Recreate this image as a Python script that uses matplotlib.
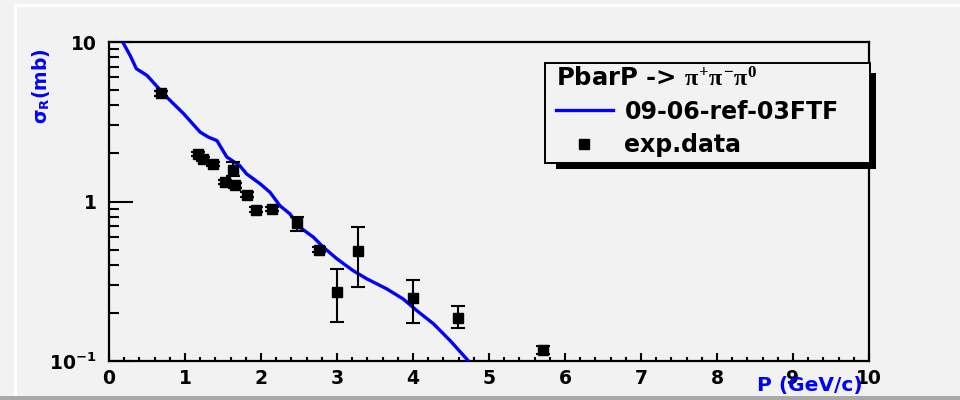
import matplotlib
matplotlib.use('Agg')
import matplotlib.pyplot as plt
from matplotlib.patches import Rectangle
from matplotlib.ticker import LogLocator, NullFormatter, MultipleLocator
import numpy as np

plt.rcParams['font.family'] = ['DejaVu Sans']
plt.rcParams['font.weight'] = 'bold'
plt.rcParams['mathtext.fontset'] = 'custom'
plt.rcParams['mathtext.rm'] = 'Liberation Serif'
plt.rcParams['mathtext.it'] = 'Liberation Serif'
plt.rcParams['mathtext.bf'] = 'Liberation Serif:bold'

# FTF model curve
p_model = [0.19, 0.28, 0.36, 0.50, 0.58, 0.76, 0.98, 1.20, 1.31, 1.42, 1.55, 1.72,
           1.81, 1.99, 2.12, 2.25, 2.38, 2.51, 2.69, 2.82, 3.00, 3.21, 3.39, 3.65,
           3.87, 4.05, 4.27, 4.49, 4.73]
sig_model = [9.8, 8.2, 6.8, 6.17, 5.6, 4.51, 3.56, 2.72, 2.53, 2.41, 1.90, 1.68,
             1.49, 1.29, 1.14, 0.94, 0.837, 0.69, 0.597, 0.517, 0.437, 0.369, 0.328, 0.284,
             0.245, 0.207, 0.171, 0.134, 0.100]

# measurements
p_exp = [0.68, 1.17, 1.24, 1.37, 1.52, 1.63, 1.66, 1.81, 1.93, 2.14, 2.47, 2.76,
         3.00, 3.28, 4.00, 4.59, 5.71]
sig_exp = [4.76, 1.98, 1.84, 1.73, 1.32, 1.58, 1.26, 1.10, 0.89, 0.90, 0.73, 0.50,
           0.27, 0.49, 0.25, 0.185, 0.118]
err_lo = [0.15, 0.06, 0.05, 0.05, 0.04, 0.14, 0.04, 0.04, 0.03, 0.03, 0.08, 0.02,
          0.095, 0.20, 0.078, 0.025, 0.008]
err_hi = [0.15, 0.06, 0.05, 0.05, 0.04, 0.18, 0.04, 0.04, 0.03, 0.03, 0.07, 0.02,
          0.11, 0.20, 0.07, 0.035, 0.007]

bg = '#f2f2f2'
fig = plt.figure(figsize=(9.6, 4.0), dpi=100, facecolor=bg)
ax = fig.add_axes([109/960, 1-361/400, 760/960, 319/400], facecolor=bg)

# canvas edges
fig.add_artist(Rectangle((14/960, 1-7/400), 1, 3/400, transform=fig.transFigure,
                         color='white', lw=0, zorder=-1))
fig.add_artist(Rectangle((14/960, 4/400), 3/960, 1-11/400, transform=fig.transFigure,
                         color='white', lw=0, zorder=-1))
fig.add_artist(Rectangle((0, 0), 1, 4/400, transform=fig.transFigure,
                         color='#a9a9a9', lw=0, zorder=-1))

line, = ax.plot(p_model, sig_model, color='#0000ff', lw=2.4, zorder=3,
                label='09-06-ref-03FTF')
eb = ax.errorbar(p_exp, sig_exp, yerr=[err_lo, err_hi], fmt='s', color='black',
                 ms=7.5, elinewidth=1.5, capsize=5, capthick=1.5, zorder=4,
                 label='exp.data')

ax.set_yscale('log')
ax.set_xlim(0, 10)
ax.set_ylim(0.1, 10)

ax.set_xticks(range(11))
ax.xaxis.set_minor_locator(MultipleLocator(0.2))
ax.set_yticks([0.1, 1, 10], labels=[r'$\mathregular{10^{-1}}$', '1', '10'])
ax.yaxis.set_minor_locator(LogLocator(subs=np.arange(2, 10)))
ax.yaxis.set_minor_formatter(NullFormatter())

ax.tick_params(axis='x', which='major', direction='in', length=6, width=1.5,
               labelsize=13.5, pad=6)
ax.tick_params(axis='x', which='minor', direction='in', length=3, width=1.5)
ax.tick_params(axis='y', which='major', direction='in', length=17, width=1.5,
               labelsize=13.5, pad=9)
ax.tick_params(axis='y', which='minor', direction='in', length=7, width=1.5)
for lab in ax.get_xticklabels() + ax.get_yticklabels():
    lab.set_fontweight('bold')
for s in ax.spines.values():
    s.set_linewidth(1.6)

ax.set_xlabel('P (GeV/c)', color='#0000ff', fontsize=14.5, fontweight='bold',
              ha='right')
ax.xaxis.set_label_coords(0.991, -0.048)
ax.set_ylabel(r'σ$_{\mathregular{R}}$(mb)', color='#0000ff', fontsize=13.5,
              fontweight='bold', loc='top')
ax.yaxis.set_label_coords(-0.075, 0.982)

# legend box with ROOT-style shadow
ax.add_patch(Rectangle((556/960, 1-169/400), 320/960, 96/400, transform=fig.transFigure,
                       facecolor='black', lw=0, clip_on=False, zorder=6))
ax.add_patch(Rectangle((545/960, 1-163/400), 325/960, 100/400, transform=fig.transFigure,
                       facecolor=bg, edgecolor='black', lw=1.4, clip_on=False, zorder=7))
leg = fig.legend(handles=[line, eb.lines[0]], labels=['09-06-ref-03FTF', 'exp.data'],
                 title=r'PbarP -> $\pi^{+}\pi^{-}\pi^{0}$', alignment='left',
                 loc='upper left', bbox_to_anchor=(556/960, 1-66/400),
                 frameon=False, borderpad=0, borderaxespad=0, fontsize=17,
                 handlelength=2.4, handletextpad=0.5, labelspacing=0.41,
                 title_fontproperties={'size': 17.5, 'weight': 'bold'})
leg.set_zorder(8)

fig.savefig('out.png', dpi=100, facecolor=bg)
